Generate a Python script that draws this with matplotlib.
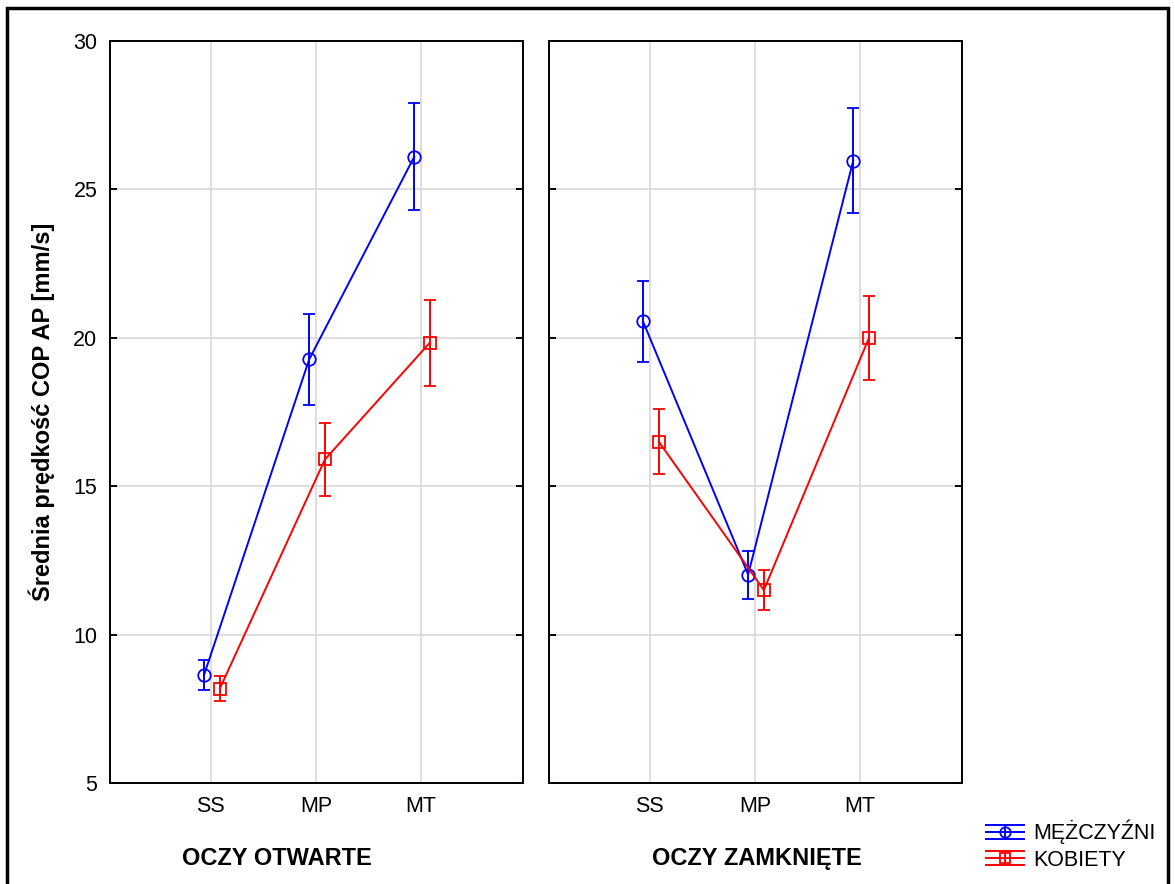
import numpy as np
import matplotlib
matplotlib.use("Agg")
import matplotlib.pyplot as plt
from matplotlib.patches import Rectangle
from matplotlib.lines import Line2D
from matplotlib.legend_handler import HandlerBase

plt.rcParams['font.family'] = ['Liberation Sans', 'DejaVu Sans']

categories = ["SS", "MP", "MT"]
panels = ["OCZY OTWARTE", "OCZY ZAMKNIĘTE"]

# means and half-widths of the error bars, per panel
men_open = [8.64, 19.27, 26.10]
men_open_err = [0.52, 1.52, 1.80]
women_open = [8.18, 15.90, 19.84]
women_open_err = [0.42, 1.22, 1.45]

men_closed = [20.55, 12.02, 25.97]
men_closed_err = [1.35, 0.81, 1.77]
women_closed = [16.50, 11.50, 20.00]
women_closed_err = [1.10, 0.68, 1.42]


class ErrHandle(HandlerBase):
    # statistica-like legend key: line, marker, caps spanning the key
    def __init__(self, color, marker):
        super().__init__()
        self.color = color
        self.marker = marker

    def create_artists(self, legend, orig_handle, xdescent, ydescent,
                       width, height, fontsize, trans):
        cy = height / 2 - ydescent
        x0, x1 = -xdescent, width - xdescent
        cx = (x0 + x1) / 2
        d = 5.0
        arts = [Line2D([x0, x1], [cy, cy], color=self.color, lw=1.4),
                Line2D([x0, x1], [cy + d, cy + d], color=self.color, lw=1.4),
                Line2D([x0, x1], [cy - d, cy - d], color=self.color, lw=1.4),
                Line2D([cx, cx], [cy - d, cy + d], color=self.color, lw=1.4),
                Line2D([cx], [cy], marker=self.marker, markersize=7.5,
                       markerfacecolor="none", markeredgecolor=self.color,
                       markeredgewidth=1.3, linestyle="none")]
        for a in arts:
            a.set_transform(trans)
        return arts


W, H = 1175, 884
fig = plt.figure(figsize=(W / 100, H / 100), dpi=100)

# black frame round the whole figure
fig.patches.append(Rectangle((7 / W, -0.05), 1161 / W, 1.05 - 8 / H,
                             transform=fig.transFigure, fill=False,
                             edgecolor="black", linewidth=2.5))

ax1 = fig.add_axes([110 / W, 1 - 783 / H, 413 / W, 742 / H])
ax2 = fig.add_axes([549 / W, 1 - 783 / H, 413 / W, 742 / H])

x = np.arange(len(categories))
data = [(men_open, men_open_err, women_open, women_open_err),
        (men_closed, men_closed_err, women_closed, women_closed_err)]
label_x = [0.404, 0.504]

handles = []
for i, (ax, (m, me, k, ke)) in enumerate(zip([ax1, ax2], data)):
    ax.set_xlim(-0.96, 2.97)
    ax.set_ylim(5, 30)
    ax.set_xticks(x)
    ax.set_xticklabels(categories, fontsize=15.5)
    ax.set_yticks([5, 10, 15, 20, 25, 30])
    ax.grid(True, color="#d8d8d8", linewidth=1.2, zorder=0)
    ax.set_axisbelow(True)
    for s in ax.spines.values():
        s.set_linewidth(1.4)

    h1 = ax.errorbar(x - 0.065, m, yerr=me, color="blue", marker="o",
                     markersize=9, markerfacecolor="none", markeredgewidth=1.3,
                     linewidth=1.4, capsize=4, elinewidth=1.4, capthick=1.4,
                     label="MĘŻCZYŹNI", zorder=3)
    h2 = ax.errorbar(x + 0.085, k, yerr=ke, color="red", marker="s",
                     markersize=8.5, markerfacecolor="none", markeredgewidth=1.3,
                     linewidth=1.4, capsize=4, elinewidth=1.4, capthick=1.4,
                     label="KOBIETY", zorder=3)
    handles = [h1, h2]

    ax.set_xlabel(panels[i], fontsize=17, fontweight="bold", labelpad=22,
                  x=label_x[i], ha="center")
    ax.tick_params(axis="x", length=0, pad=9)
    ax.tick_params(axis="y", left=True, right=True, direction="in",
                   length=5, width=1.4, labelsize=15.5, pad=9)
    if i == 0:
        ax.set_ylabel("Średnia prędkość COP AP [mm/s]", fontsize=17,
                      fontweight="bold", labelpad=13)
    else:
        ax.tick_params(axis="y", labelleft=False)

fig.legend(handles=handles,
           handler_map={handles[0]: ErrHandle("blue", "o"),
                        handles[1]: ErrHandle("red", "s")},
           loc="upper left", bbox_to_anchor=(973 / W, 1 - 807 / H),
           frameon=False, fontsize=15.5, handlelength=1.75, handleheight=0.8,
           handletextpad=0.45, labelspacing=0.25, borderpad=0.1)

fig.savefig("out.png", dpi=100)
